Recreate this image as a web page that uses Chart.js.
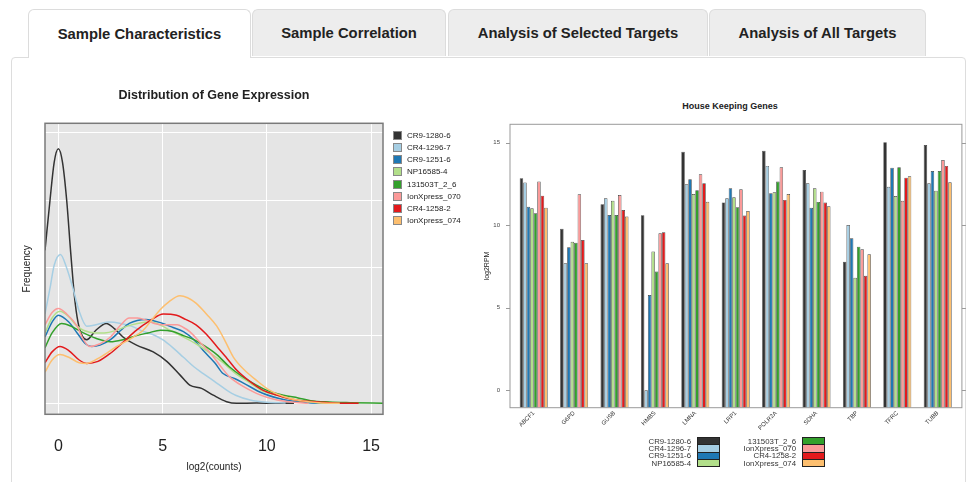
<!DOCTYPE html>
<html>
<head>
<meta charset="utf-8">
<script src="https://cdn.jsdelivr.net/npm/chart.js@4"></script>
<style>
  html, body { margin: 0; padding: 0; background: #fff; }
  body { width: 970px; height: 482px; overflow: hidden; position: relative;
         font-family: "Liberation Sans", Arial, Helvetica, sans-serif; }
  .panel { position: absolute; left: 11px; top: 57px; width: 953px; height: 450px;
           border: 1px solid #dddddd; border-radius: 4px; background: #fff; }
  .tab { position: absolute; top: 9px; height: 47px; box-sizing: border-box;
         border: 1px solid #dcdcdc; border-bottom: none; border-radius: 6px 6px 0 0;
         background: #ededed; font-weight: bold; font-size: 14.8px; color: #222;
         display: flex; align-items: center; justify-content: center; }
  .tab.active { background: #fff; height: 49px; z-index: 2; }
  .chartbox { position: absolute; }
  .hkTitle { position: absolute; left: 630px; width: 200px; top: 101px; line-height: 10px;
             text-align: center; font-size: 9px; font-weight: bold; color: #222; }
  .legL { position: absolute; left: 393px; top: 129px; font-size: 8px; color: #222; }
  .legL .row { height: 12.24px; display: flex; align-items: center; white-space: nowrap; }
  .legL .sw { width: 7px; height: 7px; border: 1px solid #888; margin-right: 5px; box-sizing: content-box; }
  .legR { position: absolute; top: 437.5px; font-size: 7.8px; color: #333; }
  .legR .row { height: 7.3px; display: flex; align-items: center; justify-content: flex-end; white-space: nowrap; }
  .legR .sw { width: 21px; height: 6.3px; border: 0.5px solid #222; margin-left: 6px; }
</style>
</head>
<body>
<div class="panel"></div>
<div class="tab active" style="left:28px;width:223px;">Sample Characteristics</div>
<div class="tab" style="left:252px;width:194px;">Sample Correlation</div>
<div class="tab" style="left:448px;width:260px;">Analysis of Selected Targets</div>
<div class="tab" style="left:709px;width:217px;">Analysis of All Targets</div>

<div class="chartbox" style="left:14px;top:70px;width:400px;height:410px;"><canvas id="densChart"></canvas></div>
<div class="legL" id="legL"></div>
<div class="hkTitle">House Keeping Genes</div>
<div class="chartbox" style="left:476px;top:90px;width:508px;height:390px;"><canvas id="hkChart"></canvas></div>
<div class="legR" id="legR1" style="left:600px;"></div>
<div class="legR" id="legR2" style="left:700px;"></div>

<script>
// Samples and their colours
const sampleNames = ['CR9-1280-6', 'CR4-1296-7', 'CR9-1251-6', 'NP16585-4',
                     '131503T_2_6', 'IonXpress_070', 'CR4-1258-2', 'IonXpress_074'];
const sampleColors = ['#333333', '#A6CEE3', '#1F78B4', '#B2DF8A',
                      '#33A02C', '#FB9A99', '#E31A1C', '#FDBF6F'];

// Density of log2(counts), [x, density] per sample
const dens_CR9_1280_6 = [[-0.64,0.113],[-0.4,0.150],[-0.2,0.178],[0,0.188],[0.2,0.178],[0.4,0.150],[0.6,0.110],
  [0.8,0.075],[1.0,0.056],[1.36,0.047],[1.8,0.054],[2.3,0.059],[2.7,0.055],[3.1,0.049],[3.75,0.043],[4.55,0.038],
  [5.2,0.031],[5.83,0.021],[6.3,0.0135],[6.87,0.011],[7.43,0.006],[8.07,0.0012],[8.55,0],[9.5,0.0003],[10.5,0],[11.3,0]];
const dens_CR4_1296_7 = [[-0.64,0.066],[-0.4,0.085],[-0.2,0.102],[0.1,0.110],[0.4,0.100],[0.7,0.085],[1.0,0.068],
  [1.36,0.057],[1.8,0.058],[2.4,0.060],[3.0,0.059],[3.5,0.057],[4.07,0.053],[4.5,0.051],[5.0,0.047],[5.5,0.041],
  [6.0,0.034],[6.5,0.027],[6.95,0.022],[7.5,0.016],[8.07,0.0098],[8.5,0.006],[9.2,0.0025],[10.0,0.0008],[10.9,0.0003]];
const dens_CR9_1251_6 = [[-0.64,0.049],[-0.3,0.060],[0.0,0.065],[0.5,0.060],[0.9,0.052],[1.3,0.044],[1.6,0.042],
  [2.0,0.043],[2.5,0.047],[3.0,0.054],[3.4,0.059],[4.2,0.062],[5.0,0.059],[5.5,0.056],[6.0,0.053],[6.5,0.047],
  [6.95,0.039],[7.5,0.030],[7.9,0.022],[8.5,0.018],[8.9,0.0148],[9.8,0.0074],[10.9,0.0025],[12.0,0.0005],[12.9,0]];
const dens_NP16585_4 = [[-0.64,0.052],[-0.3,0.063],[0.08,0.068],[0.5,0.064],[0.9,0.057],[1.2,0.054],[1.8,0.052],
  [2.2,0.052],[2.8,0.054],[3.3,0.057],[3.8,0.059],[4.4,0.060],[5.0,0.057],[5.35,0.054],[6.0,0.049],[6.6,0.044],
  [7.2,0.038],[7.9,0.030],[8.5,0.022],[9.2,0.015],[9.8,0.009],[10.5,0.006],[11.2,0.003],[12.1,0.001],[13.0,0]];
const dens_131503T_2_6 = [[-0.64,0.041],[-0.3,0.052],[0.16,0.059],[0.6,0.057],[1.2,0.052],[1.8,0.048],[2.5,0.0455],
  [3.1,0.047],[3.75,0.050],[4.3,0.052],[4.9,0.054],[5.5,0.053],[6.0,0.050],[6.5,0.047],[6.95,0.043],[7.6,0.036],
  [8.2,0.027],[8.8,0.020],[9.5,0.0135],[10.1,0.009],[10.8,0.006],[11.5,0.004],[12.1,0.002],[13.0,0.001],[14.0,0.0005],[15.57,0]];
const dens_IonXpress_070 = [[-0.64,0.058],[-0.3,0.067],[0.0,0.070],[0.4,0.066],[0.9,0.057],[1.2,0.047],[1.5,0.042],
  [2.0,0.044],[2.5,0.049],[3.0,0.058],[3.4,0.063],[3.8,0.063],[4.2,0.0615],[4.6,0.059],[5.0,0.058],[5.7,0.058],
  [6.0,0.056],[6.3,0.053],[6.8,0.045],[7.3,0.037],[7.8,0.027],[8.2,0.0197],[8.8,0.013],[9.5,0.0074],[10.0,0.0045],
  [10.5,0.0025],[11.2,0.001],[12.0,0]];
const dens_CR4_1258_2 = [[-0.64,0.030],[-0.3,0.038],[0.08,0.042],[0.5,0.039],[1.0,0.032],[1.36,0.0295],[1.9,0.031],
  [2.5,0.037],[3.1,0.045],[3.75,0.054],[4.4,0.061],[5.03,0.066],[5.67,0.065],[6.1,0.062],[6.6,0.058],[7.1,0.051],
  [7.6,0.042],[8.1,0.033],[8.55,0.0246],[9.2,0.016],[9.8,0.0098],[10.5,0.006],[11.4,0.0025],[12.5,0.001],[13.7,0],[14.4,0]];
const dens_IonXpress_074 = [[-0.64,0.023],[-0.3,0.032],[0.08,0.036],[0.5,0.034],[1.0,0.030],[1.36,0.0295],[2.0,0.034],
  [2.8,0.042],[3.5,0.048],[4.07,0.054],[4.5,0.062],[4.87,0.069],[5.3,0.075],[5.83,0.0795],[6.2,0.078],[6.6,0.074],
  [7.1,0.066],[7.6,0.057],[8.0,0.046],[8.4,0.034],[8.9,0.025],[9.5,0.017],[10.1,0.010],[10.8,0.005],[11.6,0.002],
  [12.5,0.0005],[13.5,0]];
const densities = [dens_CR9_1280_6, dens_CR4_1296_7, dens_CR9_1251_6, dens_NP16585_4,
                   dens_131503T_2_6, dens_IonXpress_070, dens_CR4_1258_2, dens_IonXpress_074];

// House keeping genes, log2RPM per sample
const genes = ['ABCF1', 'G6PD', 'GUSB', 'HMBS', 'LMNA', 'LRP1', 'POLR2A', 'SDHA', 'TBP', 'TFRC', 'TUBB'];
const hk_CR9_1280_6    = [12.84, 9.78, 11.27, 10.60, 14.45, 11.38, 14.51, 13.34, 7.79, 15.02, 14.86];
const hk_CR4_1296_7    = [12.58, 7.69, 11.63,  0.00, 12.48, 11.63, 13.59, 12.54, 10.01, 12.33, 12.54];
const hk_CR9_1251_6    = [11.12, 8.66, 10.62,  5.77, 12.78, 12.24, 11.93, 11.06, 9.21, 13.48, 13.28];
const hk_NP16585_4     = [11.02, 9.00, 11.48,  8.40, 11.89, 11.69, 11.99, 12.24, 6.82, 11.77, 12.09];
const hk_131503T_2_6   = [10.72, 8.94, 10.62,  7.19, 12.11, 11.08, 12.64, 11.41, 8.70, 13.51, 13.28];
const hk_IonXpress_070 = [12.64, 11.87, 11.83, 9.51, 13.08, 12.17, 13.51, 12.03, 8.54, 11.48, 13.95];
const hk_CR4_1258_2    = [11.79, 9.10, 10.92,  9.57, 12.54, 10.58, 11.53, 11.37, 6.94, 12.88, 13.59];
const hk_IonXpress_074 = [11.06, 7.69, 10.52,  7.69, 11.42, 10.86, 11.89, 11.15, 8.24, 12.96, 12.60];
const hkValues = [hk_CR9_1280_6, hk_CR4_1296_7, hk_CR9_1251_6, hk_NP16585_4,
                  hk_131503T_2_6, hk_IonXpress_070, hk_CR4_1258_2, hk_IonXpress_074];

const densTicks = [0, 5, 10, 15];
const hkTicks = [0, 5, 10, 15];

const FONT = '"Liberation Sans", Arial, Helvetica, sans-serif';
Chart.defaults.font.family = FONT;
Chart.defaults.color = '#222';

// Grey panel and frame around the density plot
const densFrame = {
  id: 'densFrame',
  beforeDraw(chart) {
    const {ctx, chartArea: a} = chart;
    ctx.save();
    ctx.fillStyle = '#E5E5E5';
    ctx.fillRect(a.left, a.top, a.right - a.left, a.bottom - a.top);
    ctx.restore();
  },
  afterDraw(chart) {
    const {ctx, chartArea: a} = chart;
    ctx.save();
    ctx.strokeStyle = '#7a7a7a';
    ctx.lineWidth = 1.5;
    ctx.strokeRect(a.left, a.top, a.right - a.left, a.bottom - a.top);
    ctx.restore();
  }
};

new Chart(document.getElementById('densChart'), {
  type: 'line',
  data: {
    datasets: sampleNames.map((name, i) => ({
      label: name,
      data: densities[i].map(p => ({x: p[0], y: p[1]})),
      borderColor: sampleColors[i],
      borderWidth: 1.5,
      pointRadius: 0,
      fill: false,
      cubicInterpolationMode: 'monotone',
      order: sampleNames.length - i
    }))
  },
  options: {
    responsive: true, maintainAspectRatio: false, animation: false,
    layout: {padding: {left: 0, right: 31, top: 0, bottom: 0}},
    plugins: {
      legend: {display: false}, tooltip: {enabled: false},
      title: {display: true, text: 'Distribution of Gene Expression', fullSize: false,
              font: {size: 12.5, weight: 'bold'}, color: '#222',
              padding: {top: 18.5, bottom: 19.8}}
    },
    scales: {
      x: {
        type: 'linear', min: -0.64, max: 15.57,
        afterFit(s) { s.height = 65.7; },
        afterBuildTicks(s) { s.ticks = densTicks.map(v => ({value: v})); },
        ticks: {font: {size: 16}, color: '#222', padding: 23, includeBounds: false},
        grid: {color: '#ffffff', lineWidth: 1, drawTicks: false},
        border: {display: false},
        title: {display: true, text: 'log2(counts)', font: {size: 10}, color: '#222',
                padding: {top: 0, bottom: 6.5}}
      },
      y: {
        type: 'linear', min: -0.0081, max: 0.2068,
        afterFit(s) { s.width = 31; },
        ticks: {display: false, stepSize: 0.05, includeBounds: false},
        grid: {color: '#ffffff', lineWidth: 1, drawTicks: false},
        border: {display: false},
        title: {display: true, text: 'Frequency', font: {size: 10}, color: '#222',
                padding: {top: 7, bottom: 0}}
      }
    }
  },
  plugins: [densFrame]
});

// Frame with outside tick marks around the bar plot
const hkFrame = {
  id: 'hkFrame',
  afterDraw(chart) {
    const {ctx, chartArea: a} = chart;
    const y = chart.scales.y;
    const L = a.left - 3.5, R = a.right + 4;
    ctx.save();
    ctx.strokeStyle = '#9a9a9a';
    ctx.lineWidth = 1;
    ctx.strokeRect(L, a.top, R - L, a.bottom - a.top);
    ctx.beginPath();
    y.ticks.forEach(t => {
      const py = Math.round(y.getPixelForValue(t.value)) + 0.5;
      ctx.moveTo(L - 4, py); ctx.lineTo(L, py);
      ctx.moveTo(R, py); ctx.lineTo(R + 4, py);
    });
    ctx.stroke();
    ctx.restore();
  }
};

const hkBase = -1.054;
new Chart(document.getElementById('hkChart'), {
  type: 'bar',
  data: {
    labels: genes,
    datasets: sampleNames.map((name, i) => ({
      label: name,
      data: hkValues[i],
      backgroundColor: sampleColors[i],
      borderColor: 'rgba(30,30,30,0.85)',
      borderWidth: 0.7,
      base: hkBase,
      categoryPercentage: 0.693,
      barPercentage: 1.0
    }))
  },
  options: {
    responsive: true, maintainAspectRatio: false, animation: false,
    layout: {padding: {left: 0, right: 26.1, top: 34.3, bottom: 0}},
    plugins: {
      legend: {display: false}, tooltip: {enabled: false}, title: {display: false}
    },
    scales: {
      x: {
        afterFit(s) { s.height = 72.3; },
        ticks: {font: {size: 6}, color: '#333', minRotation: 45, maxRotation: 45,
                autoSkip: false, padding: 2},
        grid: {display: false, drawTicks: false},
        border: {display: false}
      },
      y: {
        type: 'linear', min: hkBase, max: 16.11,
        afterFit(s) { s.width = 37.5; },
        afterBuildTicks(s) { s.ticks = hkTicks.map(v => ({value: v})); },
        ticks: {font: {size: 6}, color: '#444', padding: 13.5, includeBounds: false},
        grid: {display: false, drawTicks: false},
        border: {display: false},
        title: {display: true, text: 'log2RPM', font: {size: 7}, color: '#222',
                padding: {top: 6.5, bottom: 0}}
      }
    }
  },
  plugins: [hkFrame]
});

// Legends
const legL = document.getElementById('legL');
sampleNames.forEach((name, i) => {
  const row = document.createElement('div'); row.className = 'row';
  const sw = document.createElement('span'); sw.className = 'sw'; sw.style.background = sampleColors[i];
  const tx = document.createElement('span'); tx.textContent = name;
  row.appendChild(sw); row.appendChild(tx); legL.appendChild(row);
});
function fillRightLegend(el, from, to, width) {
  el.style.width = width + 'px';
  for (let i = from; i < to; i++) {
    const row = document.createElement('div'); row.className = 'row';
    const tx = document.createElement('span'); tx.textContent = sampleNames[i];
    const sw = document.createElement('span'); sw.className = 'sw'; sw.style.background = sampleColors[i];
    row.appendChild(tx); row.appendChild(sw); el.appendChild(row);
  }
}
fillRightLegend(document.getElementById('legR1'), 0, 4, 120);
fillRightLegend(document.getElementById('legR2'), 4, 8, 125);
</script>
</body>
</html>
